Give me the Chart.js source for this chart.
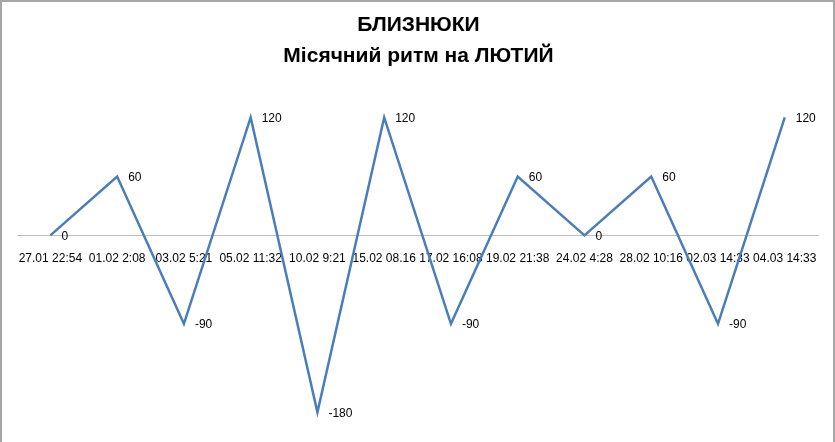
<!DOCTYPE html>
<html>
<head>
<meta charset="utf-8">
<script src="https://cdn.jsdelivr.net/npm/chart.js@4"></script>
<style>
  html, body { margin: 0; padding: 0; background: #fff; }
  #wrap {
    position: relative; width: 835px; height: 442px; box-sizing: border-box;
    border-left: 2px solid #a6a6a6; border-top: 2px solid #a6a6a6; border-right: 2px solid #a6a6a6;
  }
</style>
</head>
<body>
<div id="wrap"><canvas id="c"></canvas></div>
<script>
// ── Data ─────────────────────────────────────────
const categories = [
    '27.01 22:54', '01.02 2:08', '03.02 5:21', '05.02 11:32',
    '10.02 9:21', '15.02 08.16', '17.02 16:08', '19.02 21:38',
    '24.02 4:28', '28.02 10:16', '02.03 14:33', '04.03 14:33'
];
const rhythm = [0, 60, -90, 120, -180, 120, -90, 60, 0, 60, -90, 120];
const titleLines = ['БЛИЗНЮКИ', 'Місячний ритм на ЛЮТИЙ'];

const FONT = "'Liberation Sans', Arial, sans-serif";

// labels to the right of each point
const valueLabels = {
    id: 'valueLabels',
    afterDatasetsDraw(chart) {
        const ctx = chart.ctx;
        const meta = chart.getDatasetMeta(0);
        ctx.save();
        ctx.font = `12px ${FONT}`;
        ctx.fillStyle = '#000';
        ctx.textAlign = 'left';
        ctx.textBaseline = 'middle';
        meta.data.forEach((pt, i) => {
            ctx.fillText(String(rhythm[i]), pt.x + 11, pt.y + 1);
        });
        ctx.restore();
    }
};

new Chart(document.getElementById('c'), {
    type: 'line',
    data: {
        labels: categories,
        datasets: [{
            data: rhythm,
            borderColor: '#4a7ebb',
            borderWidth: 2.5,
            pointRadius: 0,
            tension: 0,
            fill: false
        }]
    },
    options: {
        responsive: true,
        maintainAspectRatio: false,
        animation: false,
        layout: { padding: { left: 15, right: 13, top: 0, bottom: 10 } },
        plugins: {
            legend: { display: false },
            tooltip: { enabled: false },
            title: {
                display: true,
                text: titleLines,
                color: '#000',
                font: { family: FONT, size: 21, weight: 'bold', lineHeight: 1.5 },
                padding: { top: 7, bottom: 16 }
            }
        },
        scales: {
            x: {
                position: { y: 0 },
                offset: true,
                grid: { display: false, drawTicks: false },
                border: { display: true, color: '#bfbfbf', width: 1 },
                ticks: {
                    autoSkip: false, maxRotation: 0, minRotation: 0,
                    padding: 16, color: '#000',
                    font: { family: FONT, size: 12 }
                }
            },
            y: {
                display: false,
                min: -200,
                max: 150
            }
        }
    },
    plugins: [valueLabels]
});
</script>
</body>
</html>
